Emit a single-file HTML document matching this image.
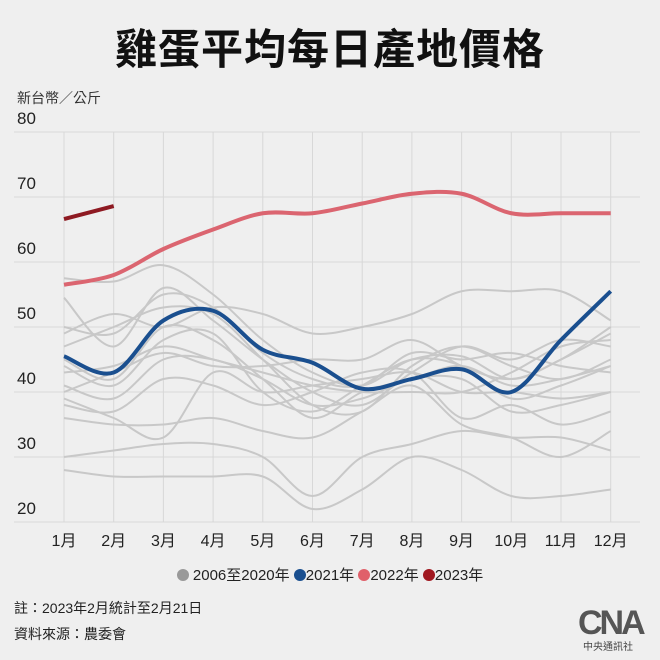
<!DOCTYPE html>
<html><head><meta charset="utf-8">
<style>
body{margin:0;background:#efefef;width:660px;height:660px;overflow:hidden;font-family:"Liberation Sans","Noto Sans CJK TC",sans-serif;color:#222}
.t{position:absolute;white-space:nowrap}
.d{display:inline-block;width:12px;height:12px;border-radius:50%;vertical-align:-1px}
</style></head><body>
<div class="t" style="left:0;width:660px;top:16px;text-align:center;font-size:42px;font-weight:bold;color:#111;letter-spacing:1px">雞蛋平均每日產地價格</div>
<div class="t" style="left:17px;top:88px;font-size:14px;color:#333">新台幣／公斤</div>
<svg id="s" width="660" height="660" style="position:absolute;left:0;top:0"></svg>
<div class="t" style="left:0;width:660px;top:564px;text-align:center;font-size:15px">
<span class="d" style="background:#999"></span> 2006至2020年 <span class="d" style="background:#1a4f8f"></span>2021年 <span class="d" style="background:#e0606a"></span>2022年 <span class="d" style="background:#a01820"></span>2023年</div>
<div class="t" style="left:14px;top:598px;font-size:14px">註：2023年2月統計至2月21日</div>
<div class="t" style="left:14px;top:624px;font-size:14px">資料來源：農委會</div>
<div class="t" style="left:578px;top:604px;font-size:34px;font-weight:bold;color:#555;letter-spacing:-3px">CNA</div>
<div class="t" style="left:583px;top:638px;font-size:10px;color:#444">中央通訊社</div>
<script>
const s=document.getElementById('s');let h='';
const X=m=>64+(m-1)*49.7, Y=v=>132+(80-v)*6.5;
for(let v=20;v<=80;v+=10){h+=`<line x1="14" x2="640" y1="${Y(v)}" y2="${Y(v)}" stroke="#d8d8d8"/><text x="17" y="${Y(v)-8}" font-size="17" fill="#222">${v}</text>`;}
for(let m=1;m<=12;m++){h+=`<line x1="${X(m)}" x2="${X(m)}" y1="${Y(80)}" y2="${Y(20)}" stroke="#d8d8d8"/><text x="${X(m)}" y="546" font-size="16" text-anchor="middle" fill="#222">${m}月</text>`;}
function path(a){let p=a.map((v,i)=>[X(i+1),Y(v)]);let d=`M${p[0]}`;for(let i=0;i<p.length-1;i++){const p0=p[i-1]||p[i],p1=p[i],p2=p[i+1],p3=p[i+2]||p2;d+=` C${p1[0]+(p2[0]-p0[0])/6},${p1[1]+(p2[1]-p0[1])/6} ${p2[0]-(p3[0]-p1[0])/6},${p2[1]-(p3[1]-p1[1])/6} ${p2[0]},${p2[1]}`;}return d;}
const gray=[[57.5,57,59.5,55,48,43,41,45,45.5,42,45,49],[54.5,47,56,51,45,40,38,43,47,45,48,47],[50,49,55,53,46,42,41,46,45,46,44,43],[47,50,53,52,45,38,37,44,47,44,42,45],[45,42,50,48,42,36,40,42,44,41,42,44],[44,41,48,49,40,37,41,45,44,39,41,44],[41,39,45,45,42,38,39,42,42,37,38,40],[39,36,33,43,40,41,42,43,40,40,39,40],[38,37,42,41,38,40,43,43,36,38,35,37],[36,35,35,36,34,33,37,41,35,33,30,34],[30,31,32,32,30,24,30,32,34,33,33,31],[28,27,27,27,27,22,25,30,28,24,24,25],[49,52,50,53,52,49,50,52,55.5,55.5,55.5,51],[40,43,46,44,44,45,45,48,44,42,45,50],[43,44,47,45,43,41,40,40,40,43,47,48]];
gray.forEach(a=>h+=`<path d="${path(a)}" fill="none" stroke="#c8c8c8" stroke-width="2"/>`);
h+=`<path d="${path([45.5,43,51,52.5,46.5,44.5,40.5,42,43.5,40,48,55.5])}" fill="none" stroke="#1a4f8f" stroke-width="4"/>`;
h+=`<path d="${path([56.5,58,62,65,67.5,67.5,69,70.5,70.5,67.5,67.5,67.5])}" fill="none" stroke="#db6570" stroke-width="4"/>`;
h+=`<line x1="${X(1)}" y1="${Y(66.6)}" x2="${X(2)}" y2="${Y(68.6)}" stroke="#8e1a22" stroke-width="4"/>`;
s.innerHTML=h;
</script>
</body></html>
